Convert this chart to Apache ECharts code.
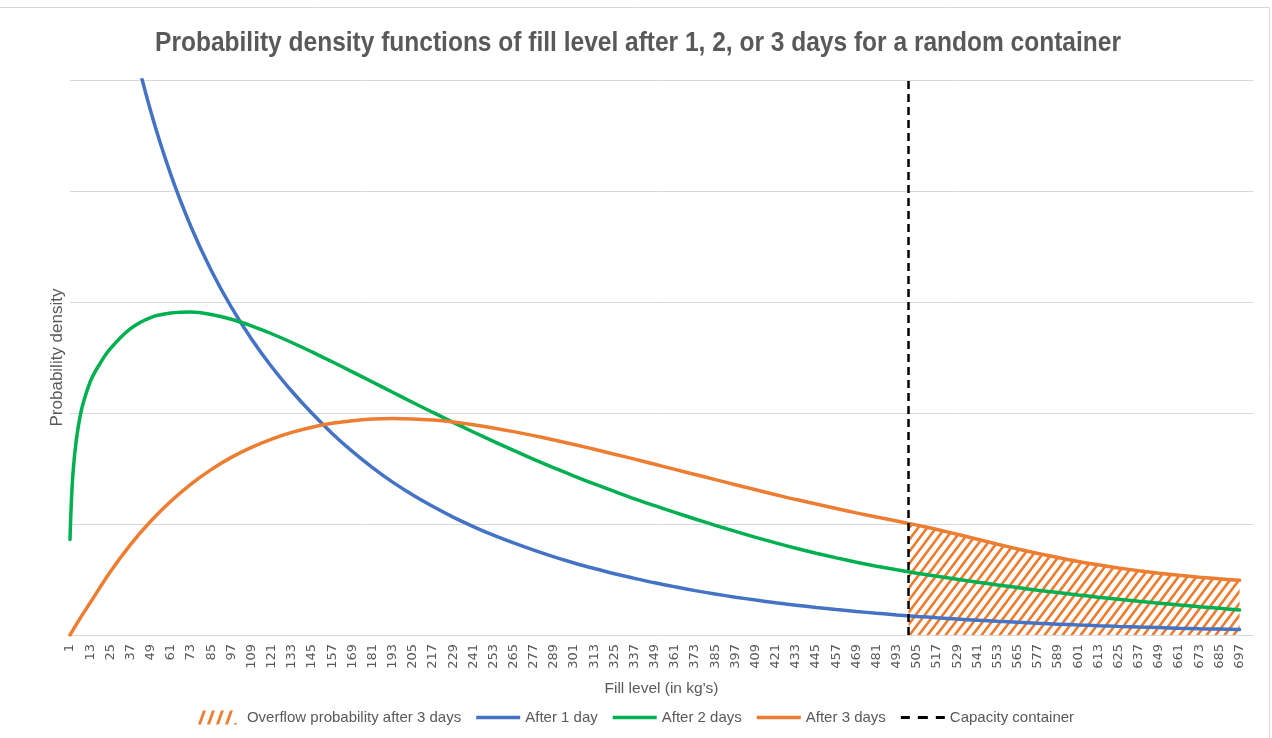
<!DOCTYPE html>
<html>
<head>
<meta charset="utf-8">
<title>Fill level densities</title>
<script src="https://cdn.jsdelivr.net/npm/echarts@6/dist/echarts.min.js"></script>
<style>
  html, body { margin: 0; padding: 0; background: #ffffff; }
  #chart { width: 1272px; height: 738px; }
</style>
</head>
<body>
<div id="chart"></div>
<script>
// Fill level categories on the horizontal axis (kg)
const fillLevelFirst = 1;
const fillLevelLast = 705;
const tickEvery = 12;
const capacityKg = 500;

// After 1 day (density, in thousandths per kg)
const day1Kg = [1, 13, 25, 37, 49, 61, 73, 85, 97, 109, 121, 133, 145, 157, 169, 181, 193, 205, 217, 229,
  241, 253, 265, 277, 289, 301, 313, 325, 337, 349, 361, 373, 385, 397, 409, 421, 433, 445, 457, 469,
  481, 493, 505, 517, 529, 541, 553, 565, 577, 589, 601, 613, 625, 637, 649, 661, 673, 685, 697];
const day1Density = [12.0, 7.75, 6.40, 5.44, 4.72, 4.147, 3.678, 3.286, 2.953, 2.667, 2.417, 2.196, 1.997, 1.816, 1.654, 1.508, 1.377, 1.261, 1.157, 1.062,
  0.977, 0.899, 0.829, 0.764, 0.704, 0.649, 0.599, 0.552, 0.510, 0.470, 0.434, 0.400, 0.369, 0.341, 0.315, 0.291, 0.269, 0.248, 0.2295, 0.212,
  0.196, 0.181, 0.1676, 0.1552, 0.1437, 0.1331, 0.1232, 0.1141, 0.1057, 0.0979, 0.0906, 0.0839, 0.0777, 0.0720, 0.0667, 0.0617, 0.0572, 0.0530, 0.0490];

// After 2 days
const day2Kg = [1, 3, 7, 13, 19, 25, 37, 49, 61, 73, 85, 97, 109, 121, 133, 145, 157, 169, 181, 193, 205, 217, 229,
  241, 253, 265, 277, 289, 301, 313, 325, 337, 349, 361, 373, 385, 397, 409, 421, 433, 445, 457, 469,
  481, 493, 505, 517, 529, 541, 553, 565, 577, 589, 601, 613, 625, 637, 649, 661, 673, 685, 697];
const day2Density = [0.86, 1.50, 1.97, 2.28, 2.45, 2.58, 2.76, 2.86, 2.90, 2.91, 2.888, 2.845, 2.785, 2.714, 2.635, 2.550, 2.462, 2.371, 2.279, 2.187, 2.095, 2.005, 1.916,
  1.829, 1.745, 1.663, 1.583, 1.506, 1.432, 1.361, 1.293, 1.227, 1.165, 1.104, 1.045, 0.988, 0.933, 0.880, 0.830, 0.782, 0.737, 0.695, 0.656,
  0.620, 0.587, 0.557, 0.529, 0.502, 0.476, 0.451, 0.427, 0.404, 0.382, 0.361, 0.341, 0.322, 0.304, 0.287, 0.271, 0.255, 0.240, 0.225];

// After 3 days
const day3Kg = [1, 7, 13, 25, 37, 49, 61, 73, 85, 97, 109, 121, 133, 145, 157, 169, 181, 193, 205, 217, 229,
  241, 253, 265, 277, 289, 301, 313, 325, 337, 349, 361, 373, 385, 397, 409, 421, 433, 445, 457, 469,
  481, 493, 500, 505, 517, 529, 541, 553, 565, 577, 589, 601, 613, 625, 637, 649, 661, 673, 685, 697];
const day3Density = [0, 0.15, 0.29, 0.57, 0.815, 1.025, 1.205, 1.36, 1.49, 1.60, 1.69, 1.765, 1.825, 1.872, 1.907, 1.931, 1.945, 1.95, 1.947, 1.936, 1.918,
  1.894, 1.865, 1.832, 1.796, 1.757, 1.716, 1.673, 1.629, 1.584, 1.538, 1.492, 1.446, 1.400, 1.354, 1.309, 1.264, 1.220, 1.180, 1.140, 1.100,
  1.063, 1.027, 1.005, 0.990, 0.950, 0.907, 0.862, 0.818, 0.775, 0.735, 0.698, 0.663, 0.632, 0.604, 0.579, 0.557, 0.538, 0.521, 0.506, 0.493];

// Density axis range (gridlines only, no labels)
const densityMax = 5;
const densityStep = 1;

const seriesNames = ['Overflow probability after 3 days', 'After 1 day', 'After 2 days', 'After 3 days', 'Capacity container'];

const BLUE = '#4472C4', GREEN = '#00B050', ORANGE = '#ED7D31', GRID = '#D9D9D9', TEXT = '#595959';

const categories = [];
for (let k = fillLevelFirst; k <= fillLevelLast; k++) categories.push(String(k));

function pairs(kgs, vals) {
  return kgs.map((k, i) => [String(k), vals[i]]);
}

// Overflow region: the 3-day density beyond container capacity
const overflowPairs = pairs(day3Kg, day3Density).filter(p => Number(p[0]) >= capacityKg);

// Diagonal hatch tile for the overflow area
function hatchTile() {
  const w = 9, h = 12;
  const c = document.createElement('canvas');
  c.width = w; c.height = h;
  const ctx = c.getContext('2d');
  ctx.fillStyle = '#ffffff';
  ctx.fillRect(0, 0, w, h);
  ctx.strokeStyle = ORANGE;
  ctx.lineWidth = 2.6;
  ctx.beginPath();
  ctx.moveTo(-w, 2 * h); ctx.lineTo(2 * w, -h);
  ctx.moveTo(-2 * w, 2 * h); ctx.lineTo(w, -h);
  ctx.moveTo(0, 2 * h); ctx.lineTo(3 * w, -h);
  ctx.stroke();
  return c;
}

// Legend glyphs (44 x 14 box): hatch strokes, solid bar, dashed bar
const hatchIcon = 'path://M0,14L3,14L8,0L5,0Z M9,14L12,14L17,0L14,0Z M18,14L21,14L26,0L23,0Z M27,14L30,14L35,0L32,0Z M36,14L38.5,14L39,12.5L36.5,12.5Z M44,0L44,14';
const solidIcon = 'path://M0,0L0,14 M44,0L44,14 M0,5.2L44,5.2L44,8.8L0,8.8Z';
const dashIcon = 'path://M0,0L0,14 M44,0L44,14 M0,5.6L9,5.6L9,8.4L0,8.4Z M17,5.6L27,5.6L27,8.4L17,8.4Z M35,5.6L44,5.6L44,8.4L35,8.4Z';

const chart = echarts.init(document.getElementById('chart'), null, { renderer: 'canvas' });

const lineBase = { type: 'line', symbol: 'none', smooth: 0.35, clip: true };

chart.setOption({
  animation: false,
  backgroundColor: '#ffffff',
  graphic: [
    {
      type: 'rect', silent: true, z: -10,
      shape: { x: -2, y: 7.5, width: 1271.5, height: 760 },
      style: { fill: 'none', stroke: GRID, lineWidth: 1 }
    },
    {
      type: 'text', x: 638, y: 44, scaleX: 0.908, silent: true,
      style: {
        text: 'Probability density functions of fill level after 1, 2, or 3 days for a random container',
        fontFamily: 'Liberation Sans', fontWeight: 'bold', fontSize: 27,
        fill: TEXT, align: 'center', verticalAlign: 'middle'
      }
    }
  ],
  grid: { left: 70, right: 19, top: 80, bottom: 103, containLabel: false },
  legend: {
    bottom: 8,
    left: 'center',
    itemWidth: 44,
    itemHeight: 14,
    itemGap: 15,
    textStyle: { color: TEXT, fontFamily: 'Liberation Sans', fontSize: 15 },
    data: [
      { name: seriesNames[0], icon: hatchIcon, itemStyle: { color: ORANGE } },
      { name: seriesNames[1], icon: solidIcon, itemStyle: { color: BLUE } },
      { name: seriesNames[2], icon: solidIcon, itemStyle: { color: GREEN } },
      { name: seriesNames[3], icon: solidIcon, itemStyle: { color: ORANGE } },
      { name: seriesNames[4], icon: dashIcon, itemStyle: { color: '#000000' } }
    ]
  },
  xAxis: {
    type: 'category',
    data: categories,
    boundaryGap: false,
    name: "Fill level (in kg's)",
    nameLocation: 'middle',
    nameGap: 46,
    nameTextStyle: { color: TEXT, fontFamily: 'Liberation Sans', fontSize: 15.5 },
    axisLine: { show: true, lineStyle: { color: GRID, width: 1 } },
    axisTick: { show: false },
    axisLabel: {
      interval: tickEvery - 1, rotate: 90, margin: 9,
      color: TEXT, fontFamily: 'DejaVu Sans', fontSize: 13
    },
    splitLine: { show: false }
  },
  yAxis: {
    type: 'value',
    min: 0,
    max: densityMax,
    interval: densityStep,
    name: 'Probability density',
    nameLocation: 'middle',
    nameGap: 4,
    nameTextStyle: { color: TEXT, fontFamily: 'Liberation Sans', fontSize: 17 },
    axisLine: { show: false },
    axisTick: { show: false },
    axisLabel: { show: false },
    splitLine: { show: true, lineStyle: { color: GRID, width: 1 } }
  },
  series: [
    Object.assign({}, lineBase, {
      name: seriesNames[0],
      data: overflowPairs,
      lineStyle: { width: 0, color: ORANGE },
      itemStyle: { color: ORANGE },
      areaStyle: { color: { image: hatchTile(), repeat: 'repeat' }, opacity: 1 },
      z: 1
    }),
    Object.assign({}, lineBase, {
      name: seriesNames[1],
      data: pairs(day1Kg, day1Density),
      lineStyle: { width: 3.5, color: BLUE, cap: 'round' },
      itemStyle: { color: BLUE },
      z: 3
    }),
    Object.assign({}, lineBase, {
      name: seriesNames[2],
      data: pairs(day2Kg, day2Density),
      lineStyle: { width: 3.5, color: GREEN, cap: 'round' },
      itemStyle: { color: GREEN },
      z: 3
    }),
    Object.assign({}, lineBase, {
      name: seriesNames[3],
      data: pairs(day3Kg, day3Density),
      lineStyle: { width: 3.5, color: ORANGE, cap: 'round' },
      itemStyle: { color: ORANGE },
      z: 3
    }),
    Object.assign({}, lineBase, {
      name: seriesNames[4],
      smooth: false,
      data: [[String(capacityKg), 0], [String(capacityKg), densityMax]],
      lineStyle: { width: 2.5, color: '#000000', type: [8, 5] },
      itemStyle: { color: '#000000' },
      z: 4
    })
  ]
});
</script>
</body>
</html>
